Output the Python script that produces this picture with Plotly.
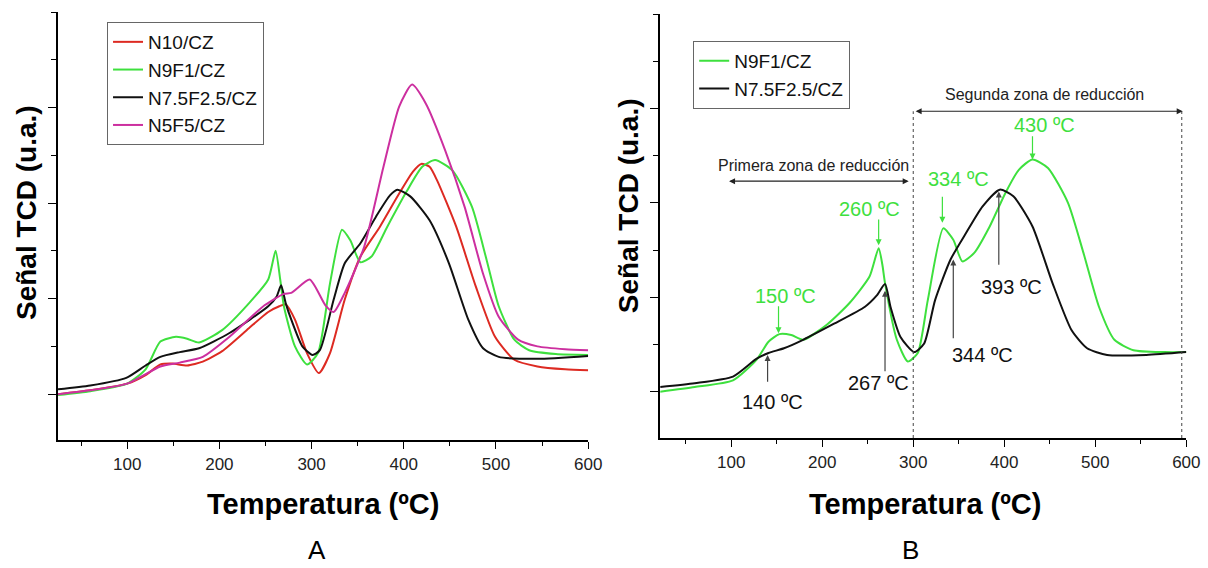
import plotly.graph_objects as go

# ---------------- Panel A data ----------------
a_n10_x = [25, 60, 100, 120, 136, 149, 165, 182, 203, 232, 253, 265, 272, 282, 295, 308, 320, 336, 353, 374, 395, 410, 419, 428, 436, 457, 478, 499, 520, 545, 575, 600]
a_n10_y = [0.0, 0.04, 0.11, 0.20, 0.31, 0.32, 0.30, 0.34, 0.45, 0.69, 0.86, 0.92, 0.94, 0.78, 0.43, 0.22, 0.43, 0.99, 1.44, 1.75, 2.10, 2.33, 2.41, 2.38, 2.24, 1.75, 1.13, 0.60, 0.36, 0.29, 0.26, 0.25]

a_n9f1_x = [25, 60, 100, 120, 136, 153, 165, 178, 203, 232, 253, 261, 266, 270, 282, 295, 307, 320, 333, 342, 353, 365, 382, 403, 420, 434, 453, 474, 490, 503, 520, 536, 565, 600]
a_n9f1_y = [-0.01, 0.03, 0.11, 0.26, 0.55, 0.60, 0.58, 0.54, 0.67, 0.95, 1.20, 1.50, 1.20, 0.92, 0.50, 0.31, 0.43, 1.16, 1.72, 1.61, 1.38, 1.44, 1.75, 2.12, 2.38, 2.45, 2.34, 1.96, 1.40, 0.92, 0.57, 0.46, 0.42, 0.41]

a_n75_x = [25, 60, 99, 120, 136, 157, 178, 211, 253, 262, 267, 272, 278, 290, 301, 309, 324, 336, 353, 370, 385, 393, 407, 428, 449, 470, 486, 503, 545, 600]
a_n75_y = [0.05, 0.09, 0.17, 0.30, 0.39, 0.44, 0.48, 0.64, 0.92, 1.02, 1.14, 0.95, 0.78, 0.50, 0.41, 0.46, 0.99, 1.37, 1.58, 1.86, 2.08, 2.14, 2.07, 1.82, 1.37, 0.78, 0.48, 0.39, 0.37, 0.40]

a_n5f5_x = [25, 60, 100, 136, 157, 182, 211, 249, 270, 278, 298, 315, 324, 336, 357, 378, 395, 409, 424, 445, 466, 486, 503, 524, 545, 575, 600]
a_n5f5_y = [0.0, 0.04, 0.11, 0.29, 0.33, 0.39, 0.60, 0.93, 1.05, 1.06, 1.20, 0.93, 0.86, 1.06, 1.54, 2.38, 3.01, 3.24, 3.04, 2.55, 1.96, 1.26, 0.81, 0.57, 0.50, 0.47, 0.46]

# ---------------- Panel B data ----------------
b_n9f1_x = [22, 60, 102, 128, 141, 153, 166, 179, 205, 230, 252, 262, 266, 269, 282, 294, 305, 316, 333, 344, 354, 367, 384, 401, 416, 431, 448, 470, 487, 504, 521, 542, 576, 600]
b_n9f1_y = [0.0, 0.05, 0.12, 0.34, 0.53, 0.61, 0.60, 0.55, 0.71, 0.94, 1.22, 1.52, 1.35, 1.15, 0.55, 0.32, 0.41, 0.97, 1.73, 1.61, 1.38, 1.47, 1.75, 2.10, 2.35, 2.46, 2.37, 2.00, 1.47, 0.90, 0.55, 0.44, 0.42, 0.42]

b_n75_x = [22, 60, 102, 128, 141, 158, 179, 213, 247, 260, 269, 275, 286, 301, 312, 324, 341, 358, 376, 395, 410, 431, 453, 474, 491, 513, 556, 600]
b_n75_y = [0.05, 0.09, 0.16, 0.35, 0.41, 0.46, 0.55, 0.72, 0.90, 1.02, 1.14, 0.90, 0.58, 0.42, 0.51, 0.97, 1.40, 1.68, 1.96, 2.14, 2.07, 1.75, 1.15, 0.65, 0.46, 0.39, 0.39, 0.42]

# Peak annotations (panel B): label, text x, text y, arrow x, tail y, head y, colour key
peak_labels = ["150 ºC", "260 ºC", "334 ºC", "430 ºC", "140 ºC", "267 ºC", "344 ºC", "393 ºC"]
peak_text_x = [160, 252, 350, 444, 145, 262, 376, 408]
peak_text_y = [1.01, 1.93, 2.25, 2.82, -0.11, 0.09, 0.39, 1.11]
peak_arrow_x = [152, 262, 332, 431, 140, 269, 344, 394]
peak_tail_y = [0.92, 1.84, 2.08, 2.72, 0.09, 0.20, 0.55, 1.33]
peak_head_y = [0.62, 1.55, 1.79, 2.46, 0.39, 1.07, 1.40, 2.12]
peak_series = ["g", "g", "g", "g", "k", "k", "k", "k"]

zone_labels = ["Primera zona de reducción", "Segunda zona de reducción"]
zone_text_x = [190, 444]
zone_text_y = [2.40, 3.15]
zone_x0 = [96, 301]
zone_x1 = [295, 596]
zone_y = [2.23, 2.97]
zone_limits = [300, 595]

RED = "#dd2a22"
GREEN = "#3ee03e"
BLACK = "#111111"
MAG = "#cc2f9f"
FONT = "Liberation Sans, Arial, sans-serif"

W, H = 1208, 568
SX = 1.012  # horizontal compensation observed in rendering
def px_x(p):
    return min(p * SX / W, 1.0)
def px_y(p):
    return 1 - p / H

fig = go.Figure()
lw = 2
def add(x, y, name, color, xa, ya, leg):
    fig.add_trace(go.Scatter(x=x, y=y, name=name, mode="lines",
                             line=dict(color=color, width=lw, shape="spline", smoothing=0.6),
                             xaxis=xa, yaxis=ya, legend=leg))

add(a_n10_x, a_n10_y, "N10/CZ", RED, "x", "y", "legend")
add(a_n9f1_x, a_n9f1_y, "N9F1/CZ", GREEN, "x", "y", "legend")
add(a_n75_x, a_n75_y, "N7.5F2.5/CZ", BLACK, "x", "y", "legend")
add(a_n5f5_x, a_n5f5_y, "N5F5/CZ", MAG, "x", "y", "legend")
add(b_n9f1_x, b_n9f1_y, "N9F1/CZ", GREEN, "x2", "y2", "legend2")
add(b_n75_x, b_n75_y, "N7.5F2.5/CZ", BLACK, "x2", "y2", "legend2")

xcommon = dict(showgrid=False, zeroline=False, showline=True, linecolor="black", linewidth=1.5,
               ticks="outside", ticklen=7, tickwidth=1.3, tickcolor="black",
               tickvals=[100, 200, 300, 400, 500, 600],
               minor=dict(ticks="outside", ticklen=4, tickwidth=1.2, tickcolor="black", dtick=50, tick0=0),
               tickfont=dict(family=FONT, size=17, color="#222"), ticklabelstandoff=1)
ycommon = dict(showgrid=False, zeroline=False, showline=True, linecolor="black", linewidth=1.5,
               ticks="outside", ticklen=8, tickwidth=1.3, tickcolor="black",
               tickvals=[0, 1, 2, 3], showticklabels=False,
               minor=dict(ticks="outside", ticklen=5, tickwidth=1.2, tickcolor="black", dtick=0.5, tick0=0))

legcommon = dict(xanchor="left", yanchor="top", bordercolor="#666", borderwidth=1, bgcolor="white",
                 font=dict(family=FONT, size=19, color="#111"), itemwidth=30, tracegroupgap=0)

fig.update_layout(
    width=W, height=H, autosize=False, margin=dict(l=0, r=0, t=0, b=0),
    paper_bgcolor="white", plot_bgcolor="white",
    xaxis=dict(domain=[px_x(58), px_x(588)], range=[25, 600], anchor="y", **xcommon),
    yaxis=dict(domain=[px_y(440), px_y(12)], range=[-0.48, 4.0], anchor="x", **ycommon),
    xaxis2=dict(domain=[px_x(660), px_x(1186)], range=[22, 600], anchor="y2", **xcommon),
    yaxis2=dict(domain=[px_y(438), px_y(14)], range=[-0.49, 4.0], anchor="x2", **ycommon),
    legend=dict(x=px_x(107), y=px_y(22), **legcommon),
    legend2=dict(x=px_x(693), y=px_y(41), **legcommon),
    showlegend=True,
)

ann = []
# axis titles and panel labels
for cx in (322.5, 925):
    ann.append(dict(text="<b>Temperatura (ºC)</b>", x=px_x(cx), y=px_y(504), xref="paper", yref="paper",
                    showarrow=False, xanchor="center", yanchor="middle",
                    font=dict(family=FONT, size=29, color="black")))
for cx, cy in ((26, 213), (628, 206)):
    ann.append(dict(text="<b>Señal TCD (u.a.)</b>", x=px_x(cx), y=px_y(cy), xref="paper", yref="paper",
                    showarrow=False, textangle=-90, xanchor="center", yanchor="middle",
                    font=dict(family=FONT, size=28, color="black")))
for lab, cx in (("A", 317), ("B", 910)):
    ann.append(dict(text=lab, x=px_x(cx), y=px_y(567), xref="paper", yref="paper",
                    showarrow=False, xanchor="center", yanchor="bottom",
                    font=dict(family=FONT, size=26, color="black")))

# peak labels and arrows (panel B)
for i, lab in enumerate(peak_labels):
    col = GREEN if peak_series[i] == "g" else "#111"
    acol = GREEN if peak_series[i] == "g" else "#444"
    ann.append(dict(text=lab, x=peak_text_x[i], y=peak_text_y[i], xref="x2", yref="y2",
                    showarrow=False, xanchor="center", yanchor="middle",
                    font=dict(family=FONT, size=20, color=col)))
    ann.append(dict(text="", x=peak_arrow_x[i], y=peak_head_y[i], ax=peak_arrow_x[i], ay=peak_tail_y[i],
                    xref="x2", yref="y2", axref="x2", ayref="y2", showarrow=True,
                    arrowhead=2, arrowsize=1, arrowwidth=1.2, arrowcolor=acol))

# zones
shapes = []
for i, lab in enumerate(zone_labels):
    ann.append(dict(text=lab, x=zone_text_x[i], y=zone_text_y[i], xref="x2", yref="y2",
                    showarrow=False, xanchor="center", yanchor="middle",
                    font=dict(family=FONT, size=16, color="#222")))
    ann.append(dict(text="", x=zone_x1[i], y=zone_y[i], ax=zone_x0[i], ay=zone_y[i],
                    xref="x2", yref="y2", axref="x2", ayref="y2", showarrow=True,
                    arrowhead=2, startarrowhead=2, arrowside="end+start", arrowsize=1,
                    arrowwidth=1.2, arrowcolor="#222"))
for xv in zone_limits:
    shapes.append(dict(type="line", xref="x2", yref="y2", x0=xv, x1=xv, y0=-0.49, y1=zone_y[1],
                       line=dict(color="#444", width=1, dash="dot")))

fig.update_layout(annotations=ann, shapes=shapes)
fig.write_html(
    "out.html",
    config={"displayModeBar": False, "responsive": False},
    post_script=("document.documentElement.style.overflow='hidden';"
                 "document.body.style.overflow='hidden';"
                 "document.body.style.margin='0px';"),
)
